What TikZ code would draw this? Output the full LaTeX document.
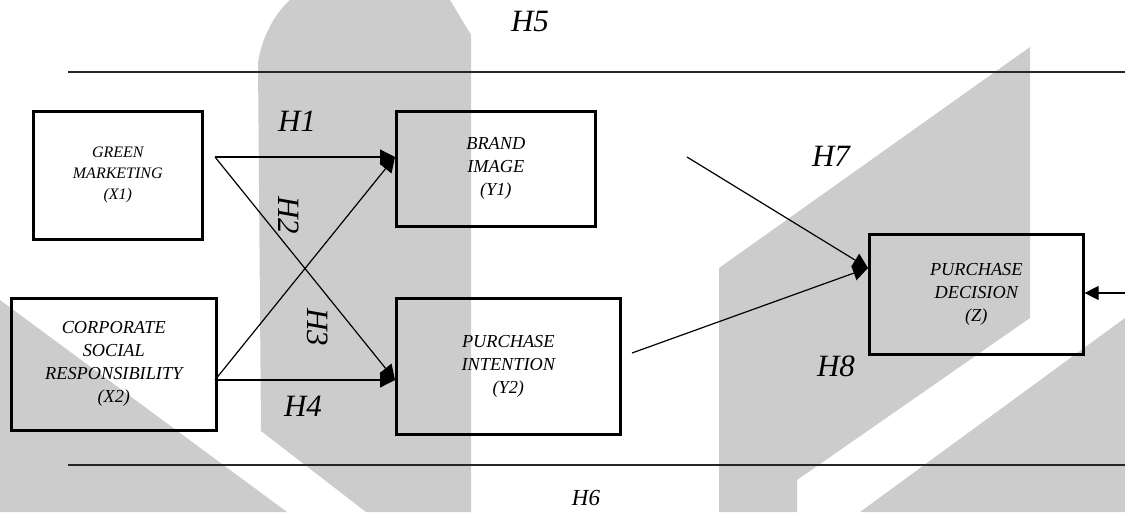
\documentclass[tikz,border=0pt]{standalone}
\usepackage{fontspec}
\setmainfont{Liberation Serif}
\usetikzlibrary{arrows.meta}
\definecolor{wm}{HTML}{CCCCCC}
\begin{document}
\begin{tikzpicture}[x=1pt,y=-1pt,
  wmark/.style={fill=wm,draw=none},
  varbox/.style={draw,line width=2.6pt,inner sep=0pt,align=center,anchor=north west,
    font=\fontsize{18.3}{23}\selectfont\itshape},
  hlab/.style={inner sep=0pt,font=\fontsize{31}{31}\selectfont\itshape},
  conn/.style={line width=1.2pt,-{Triangle[length=15pt,width=15pt]}},
  rule/.style={line width=1.3pt,draw=black!85}]
\useasboundingbox (0,0) rectangle (1125,512);
% watermark
\fill[wmark] (261,431) -- (258,62) .. controls (262,38) and (274,14) .. (290,0) -- (450,0) -- (471,35) -- (471,512) -- (366,512) -- cycle;
\fill[wmark] (0,300) -- (287,512) -- (0,512) -- cycle;
\fill[wmark] (719,268) -- (1030,47) -- (1030,318) -- (797,480) -- (797,512) -- (719,512) -- cycle;
\fill[wmark] (1125,318) -- (860,512) -- (1125,512) -- cycle;
% boxes
\node[varbox,minimum width=169pt,minimum height=128pt,font=\fontsize{16}{21}\selectfont\itshape] (gm) at (32,110) {GREEN\\MARKETING\\(X1)};
\node[varbox,minimum width=205pt,minimum height=132pt] (csr) at (10,297) {CORPORATE\\SOCIAL\\RESPONSIBILITY\\(X2)};
\node[varbox,minimum width=199pt,minimum height=115pt] (bi) at (395,110) {BRAND\\IMAGE\\(Y1)};
\node[varbox,minimum width=224pt,minimum height=136pt] (pi) at (395,297) {PURCHASE\\INTENTION\\(Y2)};
\node[varbox,minimum width=214pt,minimum height=120pt] (pd) at (868,233) {PURCHASE\\DECISION\\(Z)};
% coordinates
\coordinate (gmout) at (215,157);
\coordinate (csrout) at (215,380);
\coordinate (h7s) at (687,157);
\coordinate (h8s) at (632,353);
\coordinate (pdin) at ([yshift=-35pt]pd.north west);
\coordinate (rin) at (1125,293);
\coordinate (t1) at (68,72);
\coordinate (t2) at (1125,72);
\coordinate (b1) at (68,465);
\coordinate (b2) at (1125,465);
% connectors
\draw[conn] (gmout) -- (gmout -| bi.west);
\draw[conn] (csrout) -- (gmout -| bi.west);
\draw[conn] (gmout) -- (csrout -| pi.west);
\draw[conn] (csrout) -- (csrout -| pi.west);
\draw[conn] (h7s) -- (pdin);
\draw[conn] (h8s) -- (pdin);
\draw[line width=1.2pt,-{Triangle[length=14pt,width=14pt]}] (rin) -- (rin -| pd.east);
\draw[rule] (t1) -- (t2);
\draw[rule] (b1) -- (b2);
% labels
\node[hlab] (h1) at (297,121) {H1};
\node[hlab,rotate=-90] (h2) at (289,215) {H2};
\node[hlab,rotate=-90] (h3) at (318,327) {H3};
\node[hlab] (h4) at (303,406) {H4};
\node[hlab] (h5) at (530,21) {H5};
\node[hlab,font=\fontsize{23}{23}\selectfont\itshape] (h6) at (586,498) {H6};
\node[hlab] (h7) at (831,156) {H7};
\node[hlab] (h8) at (836,366) {H8};
\end{tikzpicture}
\end{document}
